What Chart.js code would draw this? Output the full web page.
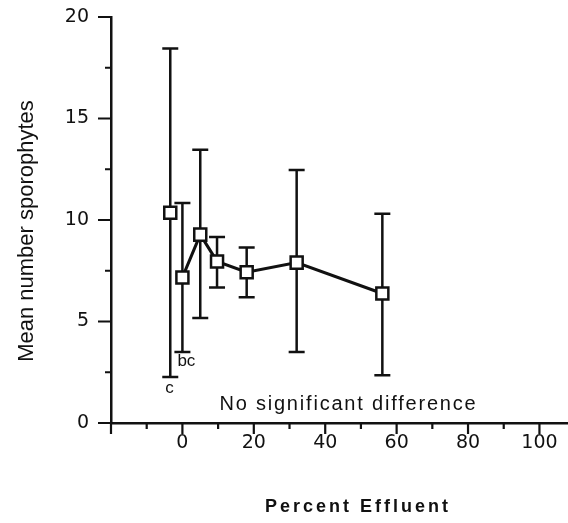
<!DOCTYPE html>
<html>
<head>
<meta charset="utf-8">
<script src="https://cdn.jsdelivr.net/npm/chart.js@4.4.1/dist/chart.umd.min.js"></script>
<style>
  html, body { margin: 0; padding: 0; background: #fff; }
</style>
</head>
<body>
<canvas id="sporoChart" width="568" height="523"></canvas>
<script>
// control point (drawn on its own, not joined to the line)
const ctrlX = [-3.4];
const ctrlMean = [10.36];
const ctrlLow = [2.27];
const ctrlHigh = [18.45];

// effluent series
const effluentX = [0, 5, 9.7, 18, 32, 56];
const effluentMean = [7.17, 9.28, 7.96, 7.43, 7.90, 6.38];
const effluentLow = [3.5, 5.17, 6.68, 6.19, 3.5, 2.35];
const effluentHigh = [10.84, 13.46, 9.16, 8.65, 12.46, 10.31];

const xTickLabels = [0, 20, 40, 60, 80, 100];
const yTickLabels = [0, 5, 10, 15, 20];

const INK = '#111';

function toPoints(xs, m, lo, hi) {
    return xs.map((x, i) => ({ x: x, y: m[i], lo: lo[i], hi: hi[i] }));
}

// vertical bars with caps, under the markers
const errorBars = {
    id: 'errorBars',
    beforeDatasetsDraw(chart) {
        const { ctx, scales: { x, y } } = chart;
        ctx.save();
        ctx.strokeStyle = INK;
        ctx.lineWidth = 2.5;
        chart.data.datasets.forEach(ds => {
            ds.data.forEach(p => {
                const px = x.getPixelForValue(p.x);
                const top = y.getPixelForValue(p.hi);
                const bot = y.getPixelForValue(p.lo);
                ctx.beginPath();
                ctx.moveTo(px, top); ctx.lineTo(px, bot);
                ctx.moveTo(px - 8, top); ctx.lineTo(px + 8, top);
                ctx.moveTo(px - 8, bot); ctx.lineTo(px + 8, bot);
                ctx.stroke();
            });
        });
        ctx.restore();
    }
};

// tick marks (major/minor lengths differ), titles and notes
const decorations = {
    id: 'decorations',
    afterDraw(chart) {
        const { ctx, scales: { x, y } } = chart;
        const axisY = y.getPixelForValue(0);
        const axisX = x.getPixelForValue(-20);
        ctx.save();
        ctx.strokeStyle = INK;
        ctx.lineWidth = 2.2;
        ctx.beginPath();
        for (let v = -20; v <= 100; v += 10) {
            const px = x.getPixelForValue(v);
            const len = v % 20 === 0 ? 11 : 6;
            ctx.moveTo(px, axisY - 1); ctx.lineTo(px, axisY + len);
        }
        for (let v = 0; v <= 20; v += 2.5) {
            const py = y.getPixelForValue(v);
            const len = v % 5 === 0 ? 13 : 6;
            ctx.moveTo(axisX + 1, py); ctx.lineTo(axisX - len, py);
        }
        ctx.stroke();

        ctx.fillStyle = INK;
        // y title
        ctx.save();
        ctx.translate(27, 231);
        ctx.rotate(-Math.PI / 2);
        ctx.font = '22px "Liberation Sans"';
        ctx.textAlign = 'center';
        ctx.textBaseline = 'middle';
        ctx.fillText('Mean number sporophytes', 0, 0);
        ctx.restore();

        // x title
        ctx.font = 'bold 18px "Liberation Sans"';
        ctx.letterSpacing = '3px';
        ctx.textAlign = 'center';
        ctx.textBaseline = 'middle';
        ctx.fillText('Percent Effluent', 358, 507);

        // notes, anchored in data space
        ctx.letterSpacing = '1.8px';
        ctx.font = '20px "Liberation Sans"';
        ctx.textBaseline = 'alphabetic';
        ctx.fillText('No significant difference', x.getPixelForValue(46.5), y.getPixelForValue(0.66));
        ctx.letterSpacing = '0px';
        ctx.font = '17px "Liberation Sans"';
        ctx.fillText('c', x.getPixelForValue(-3.6), y.getPixelForValue(1.5));
        ctx.textAlign = 'left';
        ctx.fillText('bc', x.getPixelForValue(-1.4), y.getPixelForValue(2.8));
        ctx.restore();
    }
};

const ctx = document.getElementById('sporoChart').getContext('2d');
const myChart = new Chart(ctx, {
    type: 'scatter',
    data: {
        datasets: [
            {
                label: 'Control',
                data: toPoints(ctrlX, ctrlMean, ctrlLow, ctrlHigh),
                showLine: false,
                pointStyle: 'rect',
                pointRadius: 8.5,
                pointBorderWidth: 2.5,
                pointBorderColor: INK,
                pointBackgroundColor: '#fff'
            },
            {
                label: 'Effluent',
                data: toPoints(effluentX, effluentMean, effluentLow, effluentHigh),
                showLine: true,
                borderColor: INK,
                borderWidth: 3,
                pointStyle: 'rect',
                pointRadius: 8.5,
                pointBorderWidth: 2.5,
                pointBorderColor: INK,
                pointBackgroundColor: '#fff'
            }
        ]
    },
    options: {
        responsive: false,
        animation: false,
        devicePixelRatio: 1,
        layout: { autoPadding: false, padding: { top: 17, right: 0, left: 0, bottom: 0 } },
        plugins: { legend: { display: false }, tooltip: { enabled: false } },
        scales: {
            x: {
                type: 'linear',
                min: -20,
                max: 108,
                afterFit: s => { s.height = 100; s.paddingLeft = 0; s.paddingRight = 0; },
                grid: { display: false, drawTicks: false },
                border: { display: true, color: INK, width: 2.5 },
                ticks: {
                    stepSize: 10,
                    includeBounds: false,
                    autoSkip: false,
                    maxRotation: 0,
                    padding: 9,
                    color: INK,
                    font: { family: 'DejaVu Sans', size: 19 },
                    callback: v => xTickLabels.includes(v) ? String(v) : ''
                }
            },
            y: {
                type: 'linear',
                min: 0,
                max: 20,
                afterFit: s => { s.width = 111; s.paddingTop = 0; s.paddingBottom = 0; },
                grid: { display: false, drawTicks: false },
                border: { display: true, color: INK, width: 2.5 },
                ticks: {
                    stepSize: 5,
                    padding: 22,
                    color: INK,
                    font: { family: 'DejaVu Sans', size: 19 },
                    callback: v => yTickLabels.includes(v) ? String(v) : ''
                }
            }
        }
    },
    plugins: [errorBars, decorations]
});
</script>
</body>
</html>
